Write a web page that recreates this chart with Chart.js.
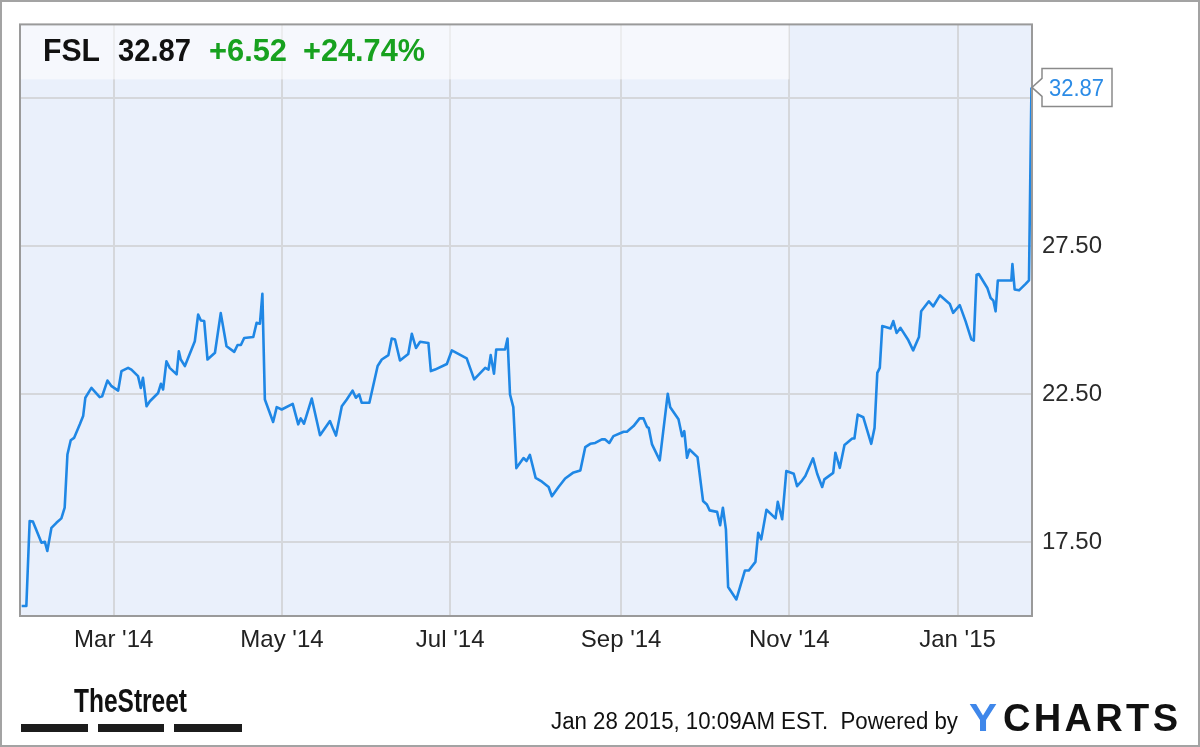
<!DOCTYPE html>
<html>
<head>
<meta charset="utf-8">
<script src="https://cdn.jsdelivr.net/npm/chart.js@4.4.1/dist/chart.umd.min.js"></script>
<style>
  html, body { margin: 0; padding: 0; background: #fff; }
  #wrap { width: 1200px; height: 747px; }
</style>
</head>
<body>
<div id="wrap"><canvas id="c" width="1200" height="747"></canvas></div>
<script>
// ---- Data (x = day of year counted from Jan 1 2014) ----
const ticker = "FSL";
const lastPrice = 32.87;
const change = "+6.52";
const changePct = "+24.74%";

const days = [25.6,27.3,28.5,29.7,32.8,34.0,34.9,36.4,38.2,40.0,
  41.2,42.2,43.4,44.6,46.7,47.9,48.7,50.9,53.9,54.8,
  56.7,58.2,60.6,61.8,64.2,65.4,67.8,68.8,69.6,70.9,
  72.1,75.1,76.1,76.9,78.1,79.3,81.8,82.6,83.3,84.8,
  88.4,89.6,90.6,91.8,93.0,95.7,97.8,99.9,102.7,103.9,
  105.1,106.3,109.6,110.8,112.0,112.9,113.8,116.8,118.1,119.9,
  123.9,125.9,126.8,128.0,130.8,133.8,137.4,138.4,139.6,141.7,
  143.5,145.6,146.8,148.0,148.9,151.7,154.7,156.2,158.6,159.8,
  161.0,162.8,165.8,167.1,168.6,170.1,173.1,174.0,175.5,179.8,
  181.6,187.0,189.7,193.7,194.9,195.7,196.9,197.7,200.9,201.8,
  202.7,203.9,205.0,207.6,208.7,209.9,212.0,214.3,216.7,217.9,
  220.3,222.7,225.5,228.2,230.0,231.8,233.6,236.0,237.2,238.7,
  240.2,243.9,245.1,247.5,249.7,251.1,252.4,253.0,254.2,257.0,
  259.9,260.8,263.8,265.1,265.9,266.9,267.8,270.7,272.7,274.1,
  275.1,277.8,278.9,279.9,281.0,281.8,284.8,287.9,289.3,291.7,
  292.7,293.8,295.7,299.0,299.8,301.4,302.9,305.6,306.8,308.6,
  309.8,312.6,314.1,315.9,316.7,319.9,320.7,322.3,324.0,326.8,
  327.6,328.8,330.8,333.7,334.9,335.9,336.8,337.7,340.7,341.7,
  342.9,344.3,347.0,348.9,351.0,351.8,354.6,356.2,358.6,362.2,
  363.4,365.8,367.9,370.0,370.9,371.9,372.7,375.8,377.0,378.0,
  378.8,379.6,384.5,384.9,385.7,387.3,389.7,390.9,391.8];

const prices = [15.34,15.34,18.21,18.19,17.48,17.51,17.2,17.98,18.15,18.3,
  18.66,20.46,20.94,21.02,21.48,21.76,22.38,22.71,22.4,22.43,
  22.96,22.77,22.62,23.28,23.39,23.33,23.11,22.71,23.05,22.09,
  22.26,22.54,22.85,22.66,23.61,23.39,23.17,23.95,23.67,23.45,
  24.29,25.19,24.99,24.97,23.67,23.9,25.24,24.12,23.93,24.16,
  24.16,24.4,24.43,24.91,24.88,25.89,22.32,21.56,22.06,21.98,
  22.17,21.48,21.68,21.5,22.35,21.11,21.59,21.36,21.1,22.09,
  22.32,22.62,22.38,22.49,22.21,22.21,23.45,23.67,23.82,24.38,
  24.35,23.64,23.86,24.54,24.06,24.27,24.23,23.28,23.33,23.52,
  23.98,23.71,23.0,23.39,23.33,23.82,23.19,24.01,24.01,24.38,
  22.49,22.06,20.0,20.34,20.24,20.45,19.67,19.54,19.36,19.05,
  19.36,19.65,19.84,19.92,20.71,20.82,20.85,20.97,20.97,20.85,
  21.08,21.23,21.23,21.42,21.68,21.68,21.39,21.36,20.8,20.26,
  22.51,22.06,21.65,21.08,21.25,20.35,20.63,20.37,18.89,18.77,
  18.57,18.52,18.07,18.66,17.93,15.98,15.56,16.54,16.54,16.83,
  17.81,17.59,18.59,18.3,18.86,18.27,19.9,19.81,19.39,19.58,
  19.73,20.33,19.81,19.36,19.62,19.84,20.52,20.01,20.78,21.0,
  21.0,21.81,21.72,20.82,21.36,23.22,23.39,24.8,24.72,24.97,
  24.57,24.74,24.35,23.98,24.43,25.3,25.64,25.47,25.84,25.55,
  25.25,25.51,24.97,24.35,24.31,26.54,26.56,26.09,25.75,25.66,
  25.3,26.34,26.34,26.9,26.04,26.01,26.23,26.35,32.87];

const xTickDays = [59, 120, 181, 243, 304, 365];
const xTickLabels = ["Mar '14", "May '14", "Jul '14", "Sep '14", "Nov '14", "Jan '15"];
const yTickValues = [17.5, 22.5, 27.5, 32.5];
const yTickLabels = ["17.50", "22.50", "27.50", ""];
const footerText = "Jan 28 2015, 10:09AM EST.  Powered by";

// ---- helpers ----
function fitText(ctx, text, x, y, w, font, color) {
  ctx.save();
  ctx.font = font;
  ctx.textBaseline = 'alphabetic';
  ctx.textAlign = 'left';
  const m = ctx.measureText(text).width;
  ctx.translate(x, y);
  ctx.scale(w / m, 1);
  ctx.fillStyle = color;
  ctx.fillText(text, 0, 0);
  ctx.restore();
}
function spacedText(ctx, text, x, y, w, font, color) {
  ctx.save();
  ctx.font = font;
  ctx.fillStyle = color;
  ctx.textBaseline = 'alphabetic';
  ctx.textAlign = 'left';
  const widths = [...text].map(ch => ctx.measureText(ch).width);
  const total = widths.reduce((a, b) => a + b, 0);
  const gap = (w - total) / (text.length - 1);
  let cx = x;
  [...text].forEach((ch, i) => { ctx.fillText(ch, cx, y); cx += widths[i] + gap; });
  ctx.restore();
}

const decor = {
  id: 'decor',
  beforeDraw(chart) {
    const { ctx, chartArea: a } = chart;
    ctx.save();
    ctx.fillStyle = '#ffffff';
    ctx.fillRect(0, 0, chart.width, chart.height);
    ctx.fillStyle = '#eaf0fb';
    ctx.fillRect(a.left, a.top, a.right - a.left, a.bottom - a.top);
    ctx.restore();
  },
  beforeDatasetsDraw(chart) {
    const { ctx, chartArea: a, scales } = chart;
    const xEnd = scales.x.getPixelForValue(xTickDays[4]);
    ctx.save();
    ctx.fillStyle = 'rgba(255,255,255,0.55)';
    ctx.fillRect(a.left, a.top, xEnd - a.left, 55);
    ctx.restore();
  },
  afterDraw(chart) {
    const { ctx, chartArea: a, scales } = chart;
    ctx.save();
    ctx.strokeStyle = '#9a9a9a';
    ctx.lineWidth = 2;
    ctx.strokeRect(a.left, a.top, a.right - a.left, a.bottom - a.top);
    ctx.strokeStyle = '#a3a3a3';
    ctx.lineWidth = 2;
    ctx.strokeRect(1, 1, chart.width - 2, chart.height - 2);
    ctx.restore();

    // header
    const hf = "bold 31px 'Liberation Sans', Arial, sans-serif";
    fitText(ctx, ticker, 43, 61, 57, hf, '#111111');
    fitText(ctx, lastPrice.toFixed(2), 118, 61, 73, hf, '#111111');
    fitText(ctx, change, 209, 61, 78, hf, '#17a11f');
    fitText(ctx, changePct, 303, 61, 122, hf, '#17a11f');

    // last value label
    const py = scales.y.getPixelForValue(prices[prices.length - 1]);
    const bx = a.right + 10, bw = 70, bh = 38, by = py - 19;
    ctx.save();
    ctx.beginPath();
    ctx.moveTo(bx, by);
    ctx.lineTo(bx + bw, by);
    ctx.lineTo(bx + bw, by + bh);
    ctx.lineTo(bx, by + bh);
    ctx.lineTo(bx, py + 9);
    ctx.lineTo(a.right, py);
    ctx.lineTo(bx, py - 9);
    ctx.closePath();
    ctx.fillStyle = '#ffffff';
    ctx.fill();
    ctx.strokeStyle = '#8a8a8a';
    ctx.lineWidth = 1.5;
    ctx.stroke();
    ctx.restore();
    fitText(ctx, lastPrice.toFixed(2), bx + 7, py + 8.5, 55, "23px 'Liberation Sans', Arial, sans-serif", '#2b8be6');

    // footer
    fitText(ctx, 'TheStreet', 74, 712, 113, "bold 34px 'Liberation Sans Narrow', 'Liberation Sans', Arial, sans-serif", '#111111');
    ctx.save();
    ctx.fillStyle = '#1c1c1c';
    ctx.fillRect(21, 724, 67, 8);
    ctx.fillRect(98, 724, 66, 8);
    ctx.fillRect(174, 724, 68, 8);
    ctx.restore();
    fitText(ctx, footerText, 551, 729, 407, "23px 'Liberation Sans', Arial, sans-serif", '#111111');
    fitText(ctx, 'Y', 969, 731, 28, "bold 38px 'Liberation Sans', Arial, sans-serif", '#3f87ea');
    spacedText(ctx, 'CHARTS', 1003, 731, 175, "bold 38px 'Liberation Sans', Arial, sans-serif", '#111111');
  }
};

const tickFont = { family: "'Liberation Sans', Arial, sans-serif", size: 24 };

new Chart(document.getElementById('c'), {
  type: 'line',
  data: {
    datasets: [{
      data: days.map((d, i) => ({ x: d, y: prices[i] })),
      borderColor: '#1f87e5',
      borderWidth: 2.6,
      pointRadius: 0,
      tension: 0,
      fill: false,
      borderJoinStyle: 'round'
    }]
  },
  options: {
    responsive: false,
    animation: false,
    events: [],
    layout: { padding: { left: 20, top: 22, right: 0, bottom: 0 } },
    plugins: { legend: { display: false }, tooltip: { enabled: false } },
    scales: {
      x: {
        type: 'linear',
        min: 25,
        max: 392,
        afterBuildTicks(scale) { scale.ticks = xTickDays.map(v => ({ value: v })); },
        afterFit(scale) { scale.height = 131; },
        ticks: {
          autoSkip: false, maxRotation: 0, padding: 10,
          color: '#222222', font: tickFont,
          callback: (v) => { const i = xTickDays.indexOf(v); return i >= 0 ? xTickLabels[i] : ''; }
        },
        grid: { color: '#d5d7db', lineWidth: 2, drawTicks: false },
        border: { display: false }
      },
      y: {
        position: 'right',
        min: 15,
        max: 35,
        afterBuildTicks(scale) { scale.ticks = yTickValues.map(v => ({ value: v })); },
        afterFit(scale) { scale.width = 168; },
        ticks: {
          padding: 10, color: '#2a2a2a', font: tickFont,
          callback: (v) => { const i = yTickValues.indexOf(v); return i >= 0 ? yTickLabels[i] : ''; }
        },
        grid: { color: '#d5d7db', lineWidth: 2, drawTicks: false },
        border: { display: false }
      }
    }
  },
  plugins: [decor]
});
</script>
</body>
</html>
